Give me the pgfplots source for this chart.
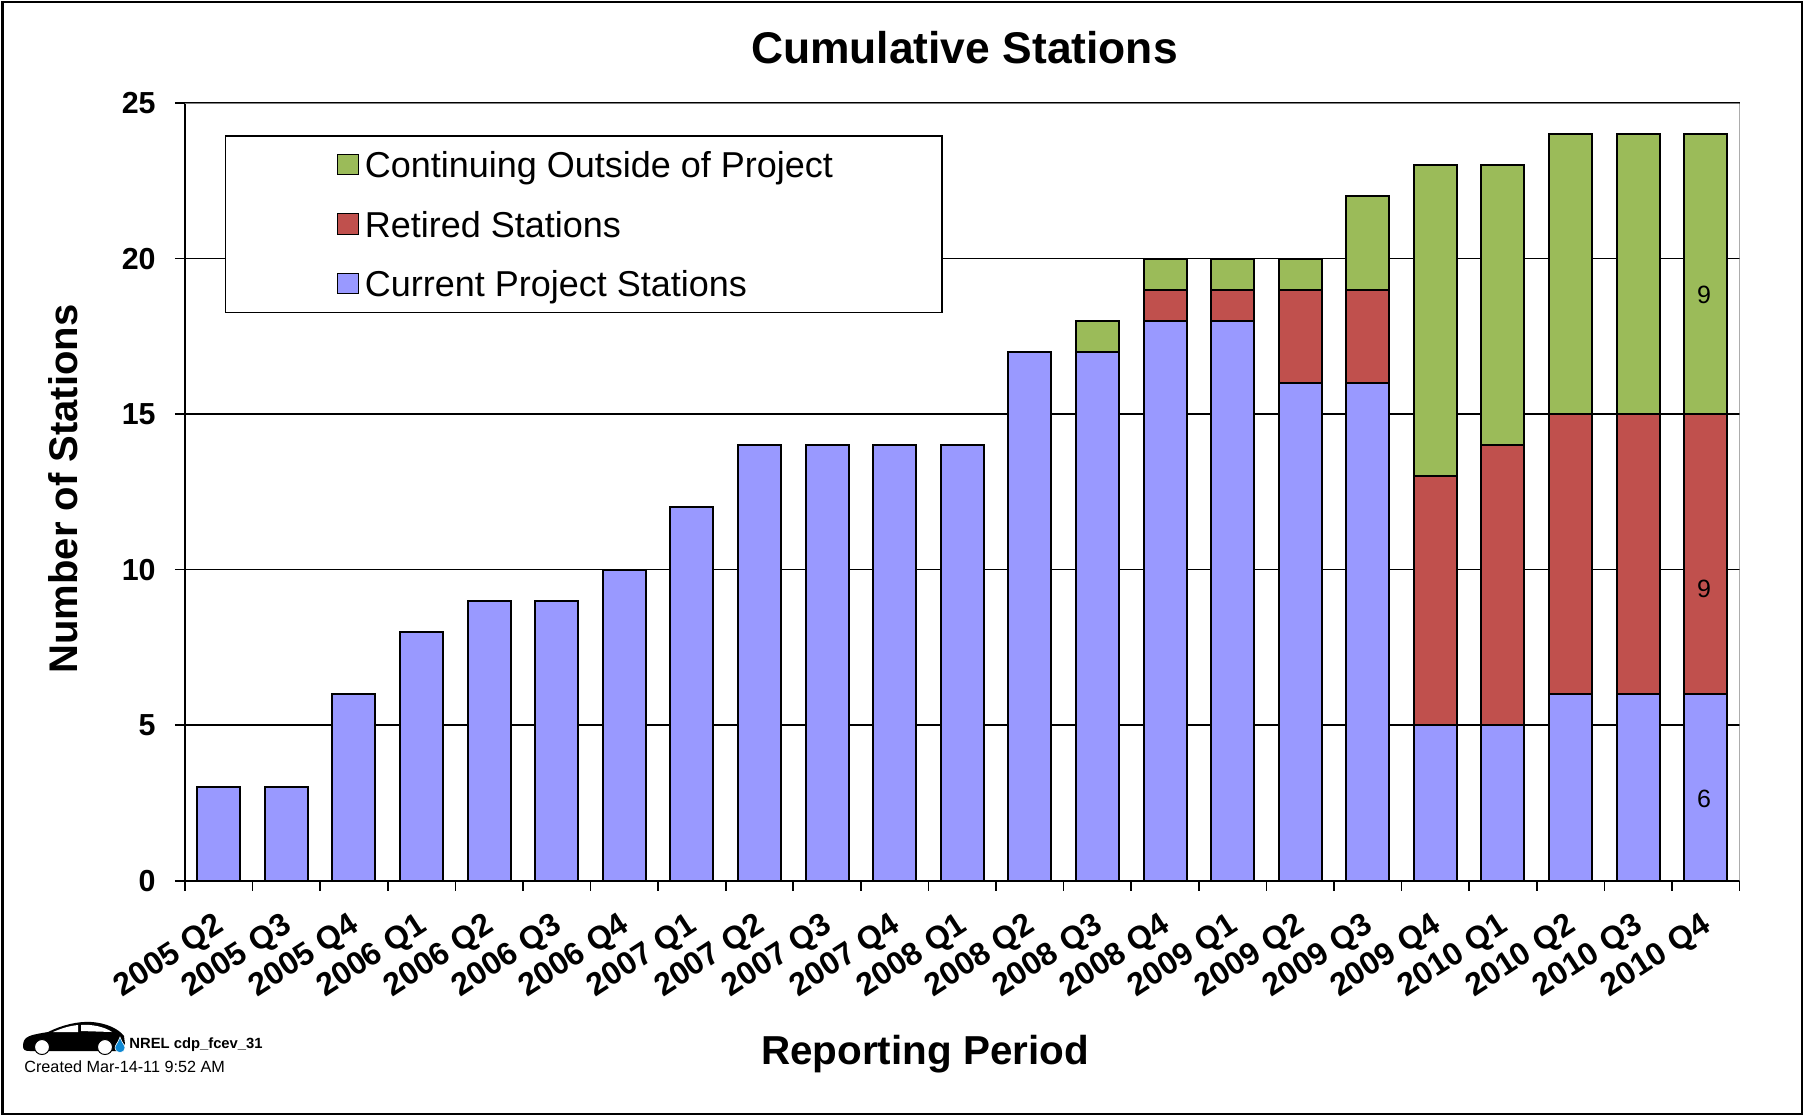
\documentclass[border=0pt]{standalone}
\usepackage{pgfplots}
\pgfplotsset{compat=1.18}
\usepackage{pgfplotstable}
\usepackage{fontspec}
\setmainfont{Liberation Sans}
\definecolor{cblue}{HTML}{9999FF}
\definecolor{cred}{HTML}{C0504D}
\definecolor{cgreen}{HTML}{9BBB59}
\pgfplotstableread{
x cur ret con
0 3 0 0
1 3 0 0
2 6 0 0
3 8 0 0
4 9 0 0
5 9 0 0
6 10 0 0
7 12 0 0
8 14 0 0
9 14 0 0
10 14 0 0
11 14 0 0
12 17 0 0
13 17 0 1
14 18 1 1
15 18 1 1
16 16 3 1
17 16 3 3
18 5 8 10
19 5 9 9
20 6 9 9
21 6 9 9
22 6 9 9
}\datatable
\begin{document}
\begin{tikzpicture}[x=0.5pt,y=-0.5pt]
\path[use as bounding box] (0,0) rectangle (1804,1115);
\draw[black,line width=1.3pt] (2.5,2) rectangle (1802,1114);
\begin{axis}[
  at={(92.5pt,-440.35pt)}, anchor=south west,
  scale only axis, width=777.25pt, height=388.85pt,
  ybar stacked, bar width=21.5pt,
  xmin=-0.5, xmax=22.5, ymin=0, ymax=25,
  axis x line=bottom, axis y line=left,
  axis line style={-, black, line width=0.8pt},
  xtick={0,...,22},
  xticklabels={2005 Q2,2005 Q3,2005 Q4,2006 Q1,2006 Q2,2006 Q3,2006 Q4,2007 Q1,2007 Q2,2007 Q3,2007 Q4,2008 Q1,2008 Q2,2008 Q3,2008 Q4,2009 Q1,2009 Q2,2009 Q3,2009 Q4,2010 Q1,2010 Q2,2010 Q3,2010 Q4},
  minor xtick={-0.5,0.5,...,22.5},
  major x tick style={draw=none},
  minor x tick style={black,line width=0.8pt},
  minor tick length=5pt,
  x tick label style={font=\bfseries\fontsize{16}{16}\selectfont, rotate=33, anchor=north east, inner sep=0pt, xshift=-7.8pt, yshift=-7pt},
  ytick={0,5,...,25},
  y tick style={black,line width=0.8pt},
  tick align=outside,
  major tick length=5pt,
  /pgf/number format/assume math mode=true,
  y tick label style={font=\bfseries\fontsize{15.2}{15.2}\selectfont, inner sep=0pt, xshift=-9.5pt},
  ymajorgrids, grid style={black,line width=0.75pt},
  title={Cumulative Stations},
  title style={font=\bfseries\fontsize{22.2}{22.2}\selectfont, at={(axis description cs:0.5014,1.056)}, anchor=center},
  xlabel={Reporting Period},
  xlabel style={font=\bfseries\fontsize{20.2}{20.2}\selectfont, at={(axis description cs:0.476,-0.2236)}, anchor=center},
  ylabel={Number of Stations},
  ylabel style={font=\bfseries\fontsize{20}{20}\selectfont, at={(axis description cs:-0.0785,0.5037)}, anchor=center},
  reverse legend,
  legend style={draw=none, fill=none, at={(axis description cs:0.0978,0.9425)}, anchor=north west, inner sep=0pt, outer sep=0pt, font=\fontsize{18}{18}\selectfont, row sep=11.2pt},
  legend cell align=left,
  legend image code/.code={\draw[#1,draw=black,line width=0.6pt] (0cm,-0.15cm) rectangle (0.36cm,0.21cm); \path (0.39cm,0cm);},
  every axis plot/.append style={draw=black,line width=1pt},
]
\addplot[fill=cblue] table[x=x,y=cur]{\datatable};
\addlegendentry{Current Project Stations}
\addplot[fill=cred] table[x=x,y=ret]{\datatable};
\addlegendentry{Retired Stations}
\addplot[fill=cgreen] table[x=x,y=con]{\datatable};
\addlegendentry{Continuing Outside of Project}
\draw[gray,line width=0.8pt] (rel axis cs:0,1) -- (rel axis cs:1,1) -- (rel axis cs:1,0);
\draw[black,fill=white,line width=0.7pt] (rel axis cs:0.0261,0.9576) rectangle (rel axis cs:0.4870,0.7309);
\end{axis}
\node[font=\fontsize{12.5}{12.5}\selectfont] at (1704,294.5) {9};
\node[font=\fontsize{12.5}{12.5}\selectfont] at (1704,589) {9};
\node[font=\fontsize{12.5}{12.5}\selectfont] at (1704,798.5) {6};
% NREL logo
\fill[black] (23,1046) .. controls (23,1036) and (30,1035) .. (48,1032) .. controls (62,1025) and (78,1021) .. (92,1022) .. controls (105,1023) and (118,1028) .. (124,1036) -- (125,1044) -- (117,1050) -- (118,1051) -- (30,1051) .. controls (25,1051) and (23,1050) .. (23,1046) -- cycle;
\fill[white] (53,1032) .. controls (60,1029) and (68,1026) .. (78,1025) -- (78,1032) -- cycle;
\fill[white] (81,1025) -- (81,1031) -- (112,1032) .. controls (105,1027) and (92,1024) .. (81,1025) -- cycle;
\fill[white,draw=black,line width=0.5pt] (42,1047) circle (7.5);
\fill[white,draw=black,line width=0.5pt] (105,1047) circle (7.5);
\fill[cyan!70!blue,draw=white,line width=0.3pt] (120,1037) .. controls (122,1043) and (125,1045) .. (125,1048) .. controls (125,1054) and (115,1054) .. (115,1048) .. controls (115,1045) and (118,1043) .. (120,1037) -- cycle;
\node[anchor=west,inner sep=0pt,font=\bfseries\fontsize{7.4}{7.4}\selectfont] at (129,1045) {NREL cdp\_fcev\_31};
\node[anchor=west,inner sep=0pt,font=\fontsize{8.1}{8.1}\selectfont] at (24,1067) {Created Mar-14-11 9:52 AM};
\end{tikzpicture}
\end{document}
